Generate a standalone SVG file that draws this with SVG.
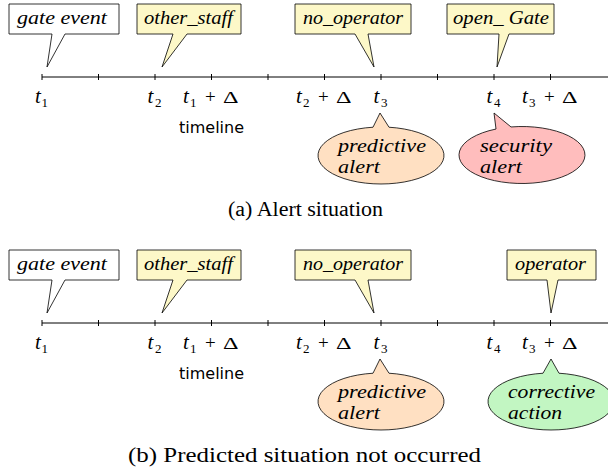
<svg xmlns="http://www.w3.org/2000/svg" width="608" height="473" viewBox="0 0 608 473">
<style>
.axis{stroke:#000;stroke-width:1;fill:none}
.co{stroke:#000;stroke-width:0.8}
.white{fill:#fff}
.yel{fill:#fdf8c8}
.peach{fill:#ffe0c2}
.red{fill:#ffbdbd}
.green{fill:#c2f6c2}
.it{font-family:"Liberation Serif","Times New Roman","DejaVu Serif",serif;font-style:italic;font-size:19px;fill:#000}
.tl{font-family:"Liberation Serif","Times New Roman","DejaVu Serif",serif;font-size:19px;fill:#000}
.ti{font-style:italic;font-size:21px}
.dl{font-size:16px}
.sub{font-family:"Liberation Serif","Times New Roman","DejaVu Serif",serif;font-size:13px;fill:#000}
.sans{font-family:"DejaVu Sans",sans-serif;font-size:16px;fill:#000}
.cap{font-family:"Liberation Serif","Times New Roman","DejaVu Serif",serif;font-size:20.5px;fill:#000}
</style>
<defs>
<g id="ticks">
<path class="axis" d="M42,77 H608 M42,74 V80 M98.5,74 V80 M155,74 V80 M211.5,74 V80 M268,74 V80 M324.5,74 V80 M381,74 V80 M437.5,74 V80 M494,74 V80 M550.5,74 V80"/>
<text class="tl ti" x="35" y="103">t</text><text class="sub" x="41.5" y="106.5">1</text>
<text class="tl ti" x="147.5" y="103">t</text><text class="sub" x="155" y="106.5">2</text>
<text class="tl ti" x="183" y="103">t</text><text class="sub" x="190" y="106.5">1</text><text class="tl" x="205" y="103">+</text><text class="tl dl" x="223" y="103" textLength="15.5" lengthAdjust="spacingAndGlyphs">Δ</text>
<text class="tl ti" x="296" y="103">t</text><text class="sub" x="303" y="106.5">2</text><text class="tl" x="318" y="103">+</text><text class="tl dl" x="336" y="103" textLength="15.5" lengthAdjust="spacingAndGlyphs">Δ</text>
<text class="tl ti" x="373.5" y="103">t</text><text class="sub" x="381" y="106.5">3</text>
<text class="tl ti" x="486.5" y="103">t</text><text class="sub" x="494" y="106.5">4</text>
<text class="tl ti" x="522" y="103">t</text><text class="sub" x="529" y="106.5">3</text><text class="tl" x="544" y="103">+</text><text class="tl dl" x="562" y="103" textLength="15.5" lengthAdjust="spacingAndGlyphs">Δ</text>
<text class="sans" x="179" y="133">timeline</text>
</g>
</defs>

<g id="axis-a"><use href="#ticks"/></g>
<g id="axis-b"><use href="#ticks" transform="translate(0,246)"/></g>

<!-- Panel (a) -->
<g id="a-gate-event">
<path class="co white" d="M9,4 H119 V34 H65 L47,67 L52,34 H9 Z"/>
<text class="it" x="17" y="24" textLength="90" lengthAdjust="spacingAndGlyphs">gate event</text>
</g>
<g id="a-other-staff">
<path class="co yel" d="M137,4 H241 V34 H187 L162,67 L173,34 H137 Z"/>
<text class="it" x="144" y="24" textLength="89" lengthAdjust="spacingAndGlyphs">other_staff</text>
</g>
<g id="a-no-operator">
<path class="co yel" d="M295,4 H411 V34 H368 L374,67 L355,34 H295 Z"/>
<text class="it" x="303" y="24" textLength="100" lengthAdjust="spacingAndGlyphs">no_operator</text>
</g>
<g id="a-open-gate">
<path class="co yel" d="M447,4 H554 V34 H509 L497,67 L499,34 H447 Z"/>
<text class="it" x="453" y="24" textLength="96" lengthAdjust="spacingAndGlyphs">open_ Gate</text>
</g>
<g id="a-predictive-alert">
<path class="co peach" d="M373,127.23 L380,113 L389,127.23 A63,28.5 0 1 1 373,127.23 Z"/>
<text class="it" x="338" y="152" textLength="88" lengthAdjust="spacingAndGlyphs">predictive</text>
<text class="it" x="338" y="173" textLength="42" lengthAdjust="spacingAndGlyphs">alert</text>
</g>
<g id="a-security-alert">
<path class="co red" d="M496,129.04 L494,113 L511,126.94 A63,28.5 0 1 1 496,129.04 Z"/>
<text class="it" x="480" y="152" textLength="72" lengthAdjust="spacingAndGlyphs">security</text>
<text class="it" x="480" y="173" textLength="42" lengthAdjust="spacingAndGlyphs">alert</text>
</g>
<text class="cap" x="305.5" y="216" text-anchor="middle" textLength="155" lengthAdjust="spacingAndGlyphs">(a) Alert situation</text>

<!-- Panel (b) -->
<g id="b-gate-event">
<path class="co white" d="M9,250 H119 V280 H65 L47,313 L52,280 H9 Z"/>
<text class="it" x="17" y="270" textLength="90" lengthAdjust="spacingAndGlyphs">gate event</text>
</g>
<g id="b-other-staff">
<path class="co yel" d="M137,250 H241 V280 H187 L162,313 L173,280 H137 Z"/>
<text class="it" x="144" y="270" textLength="89" lengthAdjust="spacingAndGlyphs">other_staff</text>
</g>
<g id="b-no-operator">
<path class="co yel" d="M295,250 H411 V280 H368 L374,313 L355,280 H295 Z"/>
<text class="it" x="303" y="270" textLength="100" lengthAdjust="spacingAndGlyphs">no_operator</text>
</g>
<g id="b-operator">
<path class="co yel" d="M507,250 H596 V280 H558 L551,313 L547,280 H507 Z"/>
<text class="it" x="515" y="270" textLength="71" lengthAdjust="spacingAndGlyphs">operator</text>
</g>
<g id="b-predictive-alert">
<path class="co peach" d="M373,373.23 L380,359 L389,373.23 A63,28.5 0 1 1 373,373.23 Z"/>
<text class="it" x="338" y="398" textLength="88" lengthAdjust="spacingAndGlyphs">predictive</text>
<text class="it" x="338" y="419" textLength="42" lengthAdjust="spacingAndGlyphs">alert</text>
</g>
<g id="b-corrective-action">
<path class="co green" d="M543,373.23 L551,359 L559,373.23 A63,28.5 0 1 1 543,373.23 Z"/>
<text class="it" x="508" y="398" textLength="87" lengthAdjust="spacingAndGlyphs">corrective</text>
<text class="it" x="508" y="419" textLength="54" lengthAdjust="spacingAndGlyphs">action</text>
</g>
<text class="cap" x="304.5" y="462" text-anchor="middle" textLength="353" lengthAdjust="spacingAndGlyphs">(b) Predicted situation not occurred</text>
</svg>
